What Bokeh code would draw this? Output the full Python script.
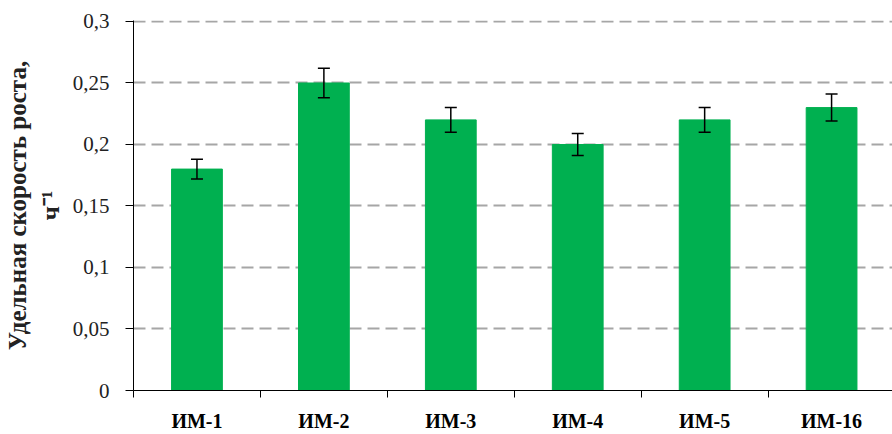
from bokeh.plotting import figure
from bokeh.models import (Range1d, FixedTicker, CustomJSTickFormatter,
                          ColumnDataSource, Whisker, TeeHead)
from bokeh.embed import file_html
from bokeh.resources import INLINE

categories = ["ИМ-1", "ИМ-2", "ИМ-3", "ИМ-4", "ИМ-5", "ИМ-16"]
rates = [0.18, 0.25, 0.22, 0.20, 0.22, 0.23]
errors = [0.008, 0.012, 0.010, 0.009, 0.010, 0.011]
y_ticks = [0, 0.05, 0.1, 0.15, 0.2, 0.25, 0.3]
y_title = "Удельная скорость роста,\nч⁻¹"

SERIF = "Liberation Serif"

x = [i + 0.5 for i in range(len(categories))]
src = ColumnDataSource(dict(
    x=x, top=rates,
    upper=[r + e for r, e in zip(rates, errors)],
    lower=[r - e for r, e in zip(rates, errors)],
))

p = figure(width=892, height=434, output_backend="svg", toolbar_location=None,
           x_range=Range1d(0, 5.98), y_range=Range1d(0, 0.3008),
           min_border_left=133, min_border_right=0, min_border_top=20,
           min_border_bottom=44)
p.outline_line_color = None
p.background_fill_color = "white"

p.vbar(x="x", top="top", width=0.4, source=src,
       fill_color="#00B050", line_color="#00B050")

head_u = TeeHead(size=12, line_color="black", line_width=1.5)
head_l = TeeHead(size=12, line_color="black", line_width=1.5)
p.add_layout(Whisker(base="x", upper="upper", lower="lower", source=src,
                     line_color="black", line_width=1.5, level="overlay",
                     upper_head=head_u, lower_head=head_l))

# x axis
p.xaxis.ticker = FixedTicker(ticks=x, minor_ticks=list(range(len(categories) + 1)))
p.xaxis.formatter = CustomJSTickFormatter(args=dict(labels=categories),
                                          code="return labels[Math.floor(tick)];")
p.xaxis.major_tick_out = 0
p.xaxis.major_tick_in = 0
p.xaxis.minor_tick_out = 7
p.xaxis.minor_tick_in = 0
p.xaxis.minor_tick_line_color = "black"
p.xaxis.axis_line_color = "black"
p.xaxis.major_label_text_font = SERIF
p.xaxis.major_label_text_font_style = "bold"
p.xaxis.major_label_text_font_size = "20px"
p.xaxis.major_label_text_color = "black"
p.xaxis.major_label_standoff = 12

# y axis
p.yaxis.ticker = FixedTicker(ticks=y_ticks, minor_ticks=[])
p.yaxis.formatter = CustomJSTickFormatter(code="""
var s = tick.toFixed(2).replace(/0+$/, '').replace(/\\.$/, '');
return s.replace('.', ',');
""")
p.yaxis.major_tick_out = 8
p.yaxis.major_tick_in = 0
p.yaxis.major_tick_line_color = "black"
p.yaxis.axis_line_color = "black"
p.yaxis.major_label_text_font = SERIF
p.yaxis.major_label_text_font_size = "21px"
p.yaxis.major_label_text_color = "#222222"
p.yaxis.major_label_standoff = 16
p.yaxis.axis_label = y_title
p.yaxis.axis_label_text_font = SERIF
p.yaxis.axis_label_text_font_style = "bold"
p.yaxis.axis_label_text_font_size = "25px"
p.yaxis.axis_label_text_color = "#222222"
p.yaxis.axis_label_standoff = 6

# grid
p.xgrid.visible = False
p.ygrid.ticker = FixedTicker(ticks=y_ticks)
p.ygrid.grid_line_color = "#A6A6A6"
p.ygrid.grid_line_width = 2
p.ygrid.grid_line_dash = "12 6"

open("out.html", "w").write(file_html(p, INLINE))
